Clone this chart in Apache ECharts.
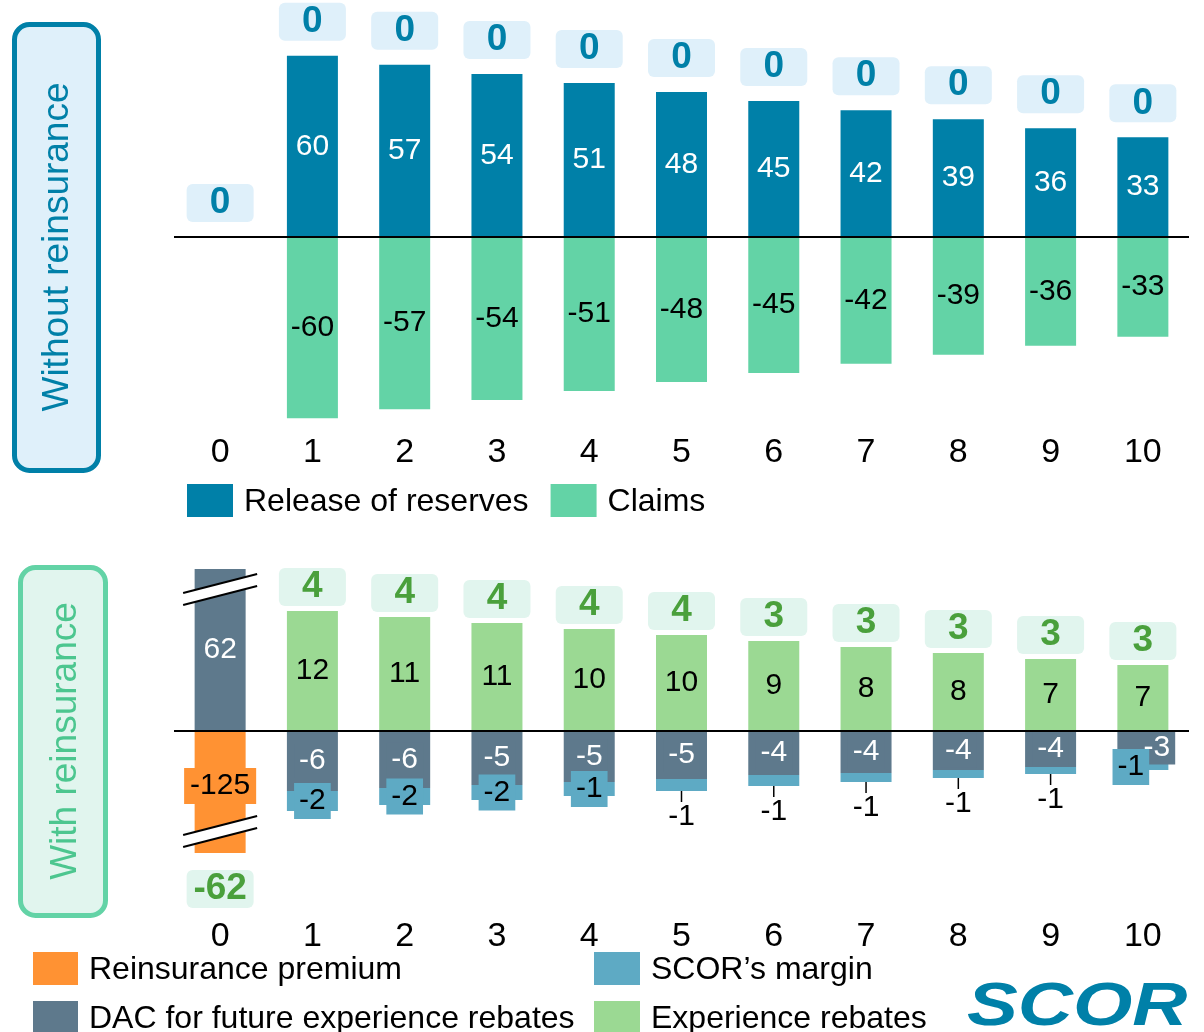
<!DOCTYPE html>
<html><head><meta charset="utf-8">
<script src="https://cdn.jsdelivr.net/npm/echarts@6/dist/echarts.min.js"></script>
<style>html,body{margin:0;padding:0;background:#fff}#c{width:1204px;height:1032px}</style>
</head><body><div id="c"></div>
<script>
// ---------- data ----------
const years = ['0','1','2','3','4','5','6','7','8','9','10'];
// Without reinsurance
const releaseOfReserves = [0, 60, 57, 54, 51, 48, 45, 42, 39, 36, 33];
const claims = [0, -60, -57, -54, -51, -48, -45, -42, -39, -36, -33];
const totalWithout = [0, 0, 0, 0, 0, 0, 0, 0, 0, 0, 0];
// With reinsurance
const reinsurancePremium = [-125, null, null, null, null, null, null, null, null, null, null];
const dacFutureRebates = [62, -6, -5.7, -5.4, -5.1, -4.8, -4.4, -4.2, -3.9, -3.6, -3.3];
const scorMargin = [null, -2.0, -1.7, -1.5, -1.4, -1.2, -1.1, -0.9, -0.8, -0.7, -0.6];
const experienceRebates = [null, 12, 11.4, 10.8, 10.2, 9.6, 9.0, 8.4, 7.8, 7.2, 6.6];
const totalWith = [-62, 4, 4, 4, 4, 4, 3, 3, 3, 3, 3];
// axis extents (bottom axis is broken for year 0)
const topRange = [-60, 70];
const botRange = [-12.2, 16.2];

// ---------- styles ----------
const FONT = 'Liberation Sans, Arial, sans-serif';
const C = {
  release: '#0080a8', claims: '#63d3a6',
  premium: '#ff9233', dac: '#5e798c', margin: '#5eaac4', rebate: '#9bd993',
  topTotText: '#0080a8', topTotBg: '#dff0fa',
  botTotText: '#4aa03c', botTotBg: '#e1f5ee'
};
const rnd = v => Math.sign(v) * Math.round(Math.abs(v));
const BW = 51;

const chart = echarts.init(document.getElementById('c'), null, {renderer: 'canvas'});

const topAnchor = releaseOfReserves.map(v => v || 0);
const botAnchor = years.map((_, i) => totalWith[i] < 0 ? reinsurancePremium[i] : experienceRebates[i]);

const baseBar = {type: 'bar', barWidth: BW, barGap: '-100%', animation: false};

const totLabel = (txt, bg) => ({
  show: true, fontFamily: FONT, fontSize: 37, fontWeight: 'bold', color: txt,
  backgroundColor: bg, borderRadius: 6, padding: [1, 4], width: 59, align: 'center', lineHeight: 36
});

const marginData = scorMargin.map((v, i) => {
  if (v == null) return v;
  if (i >= 5 && i <= 9) {
    return {value: v, label: {position: 'bottom', distance: 0, backgroundColor: 'transparent', padding: 0,
      formatter: p => '{t| }\n{v|' + rnd(p.value) + '}',
      rich: {t: {width: 1.5, height: 11, lineHeight: 11, backgroundColor: '#000'},
             v: {fontSize: 30, fontFamily: FONT, color: '#000', lineHeight: 30}}}};
  }
  if (i === 10) return {value: v, label: {offset: [-12, 0]}};
  return v;
});
const dacData = dacFutureRebates.map((v, i) => i === 10 ? {value: v, label: {offset: [14, 0]}} : v);

const legText = {fontSize: 32, color: '#000', fontFamily: FONT, padding: [0, 0, 0, 6], lineHeight: 28,
  rich: {a: {fontSize: 32, color: '#000', fontFamily: FONT, lineHeight: 28, padding: [3, 0, 0, 0]}}};
const legFmt = name => '{a|' + name + '}';

const option = {
  animation: false,
  backgroundColor: '#fff',
  textStyle: {fontFamily: FONT},
  grid: [
    {left: 174, width: 1015, top: 237 - 70 * 3.02, height: 130 * 3.02},
    {left: 174, width: 1015, top: 569, height: 284}
  ],
  xAxis: [
    {gridIndex: 0, type: 'category', data: years, axisLine: {show: false}, axisTick: {show: false},
     axisLabel: {fontSize: 34, color: '#000', margin: 17, fontFamily: FONT}},
    {gridIndex: 1, type: 'category', data: years, axisLine: {show: false}, axisTick: {show: false},
     axisLabel: {fontSize: 34, color: '#000', margin: 67, fontFamily: FONT}}
  ],
  yAxis: [
    {gridIndex: 0, type: 'value', min: topRange[0], max: topRange[1], show: false},
    {gridIndex: 1, type: 'value', min: botRange[0], max: botRange[1], show: false}
  ],
  legend: [
    {data: ['Release of reserves', 'Claims'], left: 187, top: 483, padding: 0, orient: 'horizontal',
     itemWidth: 46, itemHeight: 33, itemGap: 22, selectedMode: false, icon: 'rect',
     formatter: legFmt, textStyle: legText},
    {data: ['Reinsurance premium', 'DAC for future experience rebates'], left: 33, top: 951, height: 120, padding: 0,
     orient: 'vertical', itemWidth: 45, itemHeight: 33, itemGap: 14, selectedMode: false, icon: 'rect',
     formatter: legFmt, textStyle: legText},
    {data: ['SCOR’s margin', 'Experience rebates'], left: 594, top: 951, height: 120, padding: 0,
     orient: 'vertical', itemWidth: 46, itemHeight: 33, itemGap: 14, selectedMode: false, icon: 'rect',
     formatter: legFmt, textStyle: legText}
  ],
  series: [
    // ---- top chart ----
    Object.assign({}, baseBar, {name: 'Release of reserves', xAxisIndex: 0, yAxisIndex: 0, stack: 'top',
      data: releaseOfReserves, itemStyle: {color: C.release},
      label: {show: true, position: 'inside', color: '#fff', fontSize: 30, fontFamily: FONT,
        formatter: p => p.value ? String(rnd(p.value)) : ''}}),
    Object.assign({}, baseBar, {name: 'Claims', xAxisIndex: 0, yAxisIndex: 0, stack: 'top',
      data: claims, itemStyle: {color: C.claims},
      label: {show: true, position: 'inside', color: '#000', fontSize: 30, fontFamily: FONT,
        formatter: p => p.value ? String(rnd(p.value)) : ''}}),
    Object.assign({}, baseBar, {name: 'totalWithout', xAxisIndex: 0, yAxisIndex: 0,
      data: topAnchor, itemStyle: {color: 'rgba(0,0,0,0)'}, silent: true,
      label: Object.assign(totLabel(C.topTotText, C.topTotBg), {position: 'top', distance: 15,
        formatter: p => String(totalWithout[p.dataIndex])}),
      markLine: {silent: true, symbol: 'none', label: {show: false}, animation: false,
        lineStyle: {color: '#000', width: 2, type: 'solid'}, data: [{yAxis: 0}]}}),
    // ---- bottom chart ----
    Object.assign({}, baseBar, {name: 'Reinsurance premium', xAxisIndex: 1, yAxisIndex: 1, stack: 'bot',
      data: reinsurancePremium, itemStyle: {color: C.premium},
      label: {show: true, position: 'inside', color: '#000', fontSize: 30, fontFamily: FONT, lineHeight: 30,
        backgroundColor: C.premium, padding: [3, 6], offset: [0, -6],
        formatter: p => String(rnd(p.value))}}),
    Object.assign({}, baseBar, {name: 'DAC for future experience rebates', xAxisIndex: 1, yAxisIndex: 1, stack: 'bot',
      data: dacData, itemStyle: {color: C.dac},
      label: {show: true, position: 'inside', color: '#fff', fontSize: 30, fontFamily: FONT, lineHeight: 30,
        backgroundColor: C.dac, padding: [2, 5],
        formatter: p => String(rnd(p.value))}}),
    Object.assign({}, baseBar, {name: 'SCOR’s margin', xAxisIndex: 1, yAxisIndex: 1, stack: 'bot',
      data: marginData, itemStyle: {color: C.margin},
      label: {show: true, position: 'inside', color: '#000', fontSize: 30, fontFamily: FONT, lineHeight: 30,
        backgroundColor: C.margin, padding: [3, 5],
        formatter: p => String(rnd(p.value))}}),
    Object.assign({}, baseBar, {name: 'Experience rebates', xAxisIndex: 1, yAxisIndex: 1, stack: 'bot',
      data: experienceRebates, itemStyle: {color: C.rebate},
      label: {show: true, position: 'inside', color: '#000', fontSize: 30, fontFamily: FONT,
        formatter: p => String(rnd(p.value))}}),
    Object.assign({}, baseBar, {name: 'totalWith', xAxisIndex: 1, yAxisIndex: 1,
      data: botAnchor.map((v, i) => ({value: v, label: totalWith[i] < 0 ? {position: 'bottom', distance: 17} : {position: 'top', distance: 5}})),
      itemStyle: {color: 'rgba(0,0,0,0)'}, silent: true,
      label: Object.assign(totLabel(C.botTotText, C.botTotBg), {
        formatter: p => String(totalWith[p.dataIndex])}),
      markLine: {silent: true, symbol: 'none', label: {show: false}, animation: false,
        lineStyle: {color: '#000', width: 2, type: 'solid'}, data: [{yAxis: 0}]}})
  ],
  graphic: [
    {type: 'rect', shape: {x: 14.5, y: 24.5, width: 84, height: 446, r: 15},
     style: {fill: '#dff0fa', stroke: '#0080a8', lineWidth: 5}},
    {type: 'text', x: 58, y: 247, rotation: Math.PI / 2,
     style: {text: 'Without reinsurance', font: '37px ' + FONT, fill: '#0080a8', align: 'center', verticalAlign: 'middle'}},
    {type: 'rect', shape: {x: 20.5, y: 567.5, width: 85, height: 348, r: 15},
     style: {fill: '#e1f5ee', stroke: '#63d3a6', lineWidth: 5}},
    {type: 'text', x: 66, y: 741, rotation: Math.PI / 2,
     style: {text: 'With reinsurance', font: '37px ' + FONT, fill: '#4cc68f', align: 'center', verticalAlign: 'middle'}},
    {type: 'text', x: 967, y: 1008, scaleX: 1.23,
     style: {text: 'SCOR', font: 'italic bold 62px ' + FONT, fill: '#0080a8', align: 'left', verticalAlign: 'middle'}}
  ]
};
chart.setOption(option);

// axis-break marks on year 0 of the bottom chart
const pTop = chart.convertToPixel({xAxisIndex: 1, yAxisIndex: 1}, [0, botRange[1]]);
const pBot = chart.convertToPixel({xAxisIndex: 1, yAxisIndex: 1}, [0, botRange[0]]);
const half = 37;
function brk(xc, yl1, yr1, gap) {
  const xl = xc - half, xr = xc + half;
  return [
    {type: 'polygon', z: 100, shape: {points: [[xl, yl1], [xr, yr1], [xr, yr1 + gap], [xl, yl1 + gap]]}, style: {fill: '#fff'}},
    {type: 'line', z: 101, shape: {x1: xl, y1: yl1, x2: xr, y2: yr1}, style: {stroke: '#000', lineWidth: 2}},
    {type: 'line', z: 101, shape: {x1: xl, y1: yl1 + gap, x2: xr, y2: yr1 + gap}, style: {stroke: '#000', lineWidth: 2}}
  ];
}
const extra = [].concat(
  brk(pTop[0], pTop[1] + 24, pTop[1] + 5, 12),
  brk(pBot[0], pBot[1] - 18, pBot[1] - 37, 12)
);
chart.setOption({graphic: option.graphic.concat(extra)});
</script>
</body></html>
